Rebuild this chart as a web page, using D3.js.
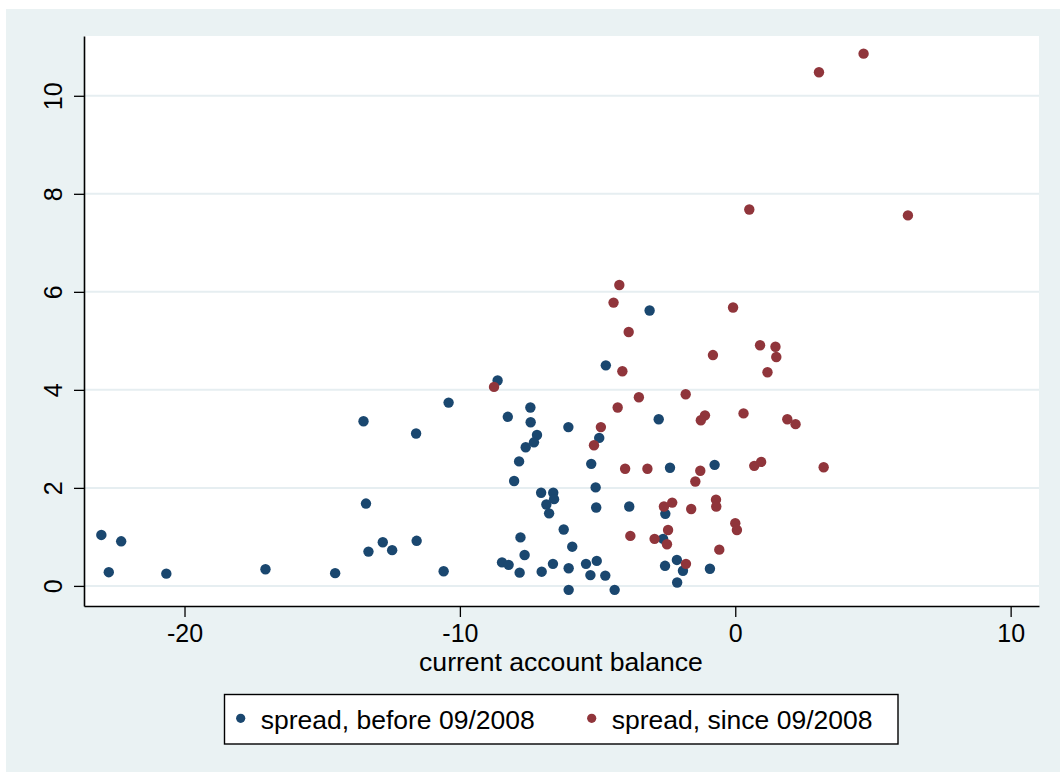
<!DOCTYPE html>
<html>
<head>
<meta charset="utf-8">
<script src="https://cdn.jsdelivr.net/npm/d3@7"></script>
<style>
  html, body { margin: 0; padding: 0; background: #ffffff; }
  svg { display: block; }
  text { font-family: "Liberation Sans", Arial, sans-serif; fill: #000; }
</style>
</head>
<body>
<script>
// ---- data ----
const beforeX = [-23.02,-22.75,-22.30,-20.66,-17.06,-14.53,-13.50,-13.41,-13.32,-12.80,-12.46,
  -11.59,-11.57,-10.59,-10.41,-8.63,-8.26,-7.44,-7.43,-7.20,-7.31,-7.61,-7.85,-8.03,-6.06,-4.94,
  -5.23,-5.07,-5.05,-4.70,-3.11,-2.78,-2.37,-0.75,-7.05,-6.61,-6.58,-6.86,-6.76,-3.85,-2.54,
  -6.23,-7.80,-5.92,-7.65,-8.47,-8.23,-7.83,-7.03,-6.62,-6.05,-5.42,-5.03,-5.26,-4.72,-6.05,
  -4.38,-2.62,-2.12,-2.55,-1.90,-2.11,-0.92];
const beforeY = [1.04,0.28,0.91,0.25,0.34,0.26,3.36,1.68,0.70,0.89,0.73,
  3.11,0.92,0.30,3.74,4.19,3.45,3.64,3.34,3.08,2.93,2.83,2.54,2.14,3.24,3.02,
  2.49,2.01,1.60,4.50,5.62,3.40,2.41,2.47,1.90,1.90,1.77,1.66,1.48,1.62,1.47,
  1.15,0.99,0.80,0.63,0.48,0.43,0.27,0.29,0.45,0.36,0.45,0.51,0.22,0.21,-0.08,
  -0.08,0.96,0.53,0.41,0.31,0.07,0.35];
const sinceX = [-4.21,-4.42,-3.87,-0.08,-4.10,-0.81,0.90,1.46,1.49,1.17,-8.76,-3.50,-1.80,-4.27,
  -1.10,-1.25,0.30,1.89,2.19,-4.88,-5.13,-4.00,-3.19,-1.27,-1.45,0.69,0.94,-2.59,-2.29,-1.60,
  -0.70,-0.69,0.00,0.06,-3.81,-2.93,-2.44,-2.48,-0.58,-1.79,4.66,3.04,0.51,6.27,3.21];
const sinceY = [6.14,5.78,5.18,5.68,4.38,4.71,4.91,4.88,4.67,4.36,4.06,3.85,3.91,3.64,
  3.48,3.38,3.52,3.40,3.30,3.24,2.87,2.39,2.39,2.35,2.13,2.45,2.53,1.62,1.70,1.57,
  1.76,1.62,1.28,1.14,1.02,0.96,1.14,0.85,0.74,0.45,10.86,10.48,7.68,7.56,2.42];
const xTicks = [-20, -10, 0, 10];
const yTicks = [0, 2, 4, 6, 8, 10];
const xTitle = "current account balance";
const seriesNames = ["spread, before 09/2008", "spread, since 09/2008"];
const seriesColors = ["#1a476f", "#90353b"];

// ---- layout ----
const W = 1060, H = 772;
const plot = { left: 84, right: 1039, top: 36, bottom: 606 };

const svg = d3.select("body").append("svg").attr("width", W).attr("height", H);

svg.append("rect").attr("x", 6).attr("y", 9).attr("width", W - 6).attr("height", H - 9)
  .attr("fill", "#eaf2f3");
svg.append("rect").attr("x", plot.left).attr("y", plot.top)
  .attr("width", plot.right - plot.left).attr("height", plot.bottom - plot.top)
  .attr("fill", "#ffffff");

const x = d3.scaleLinear().domain([-23.65, 11.03]).range([plot.left, plot.right]);
const y = d3.scaleLinear().domain([-0.41, 11.22]).range([plot.bottom, plot.top]);

// grid
svg.append("g").selectAll("line").data(yTicks).join("line")
  .attr("x1", plot.left).attr("x2", plot.right)
  .attr("y1", d => y(d)).attr("y2", d => y(d))
  .attr("stroke", "#e6eef1").attr("stroke-width", 2);

// points
function drawSeries(xs, ys, color) {
  svg.append("g").selectAll("circle").data(xs.map((v, i) => [v, ys[i]])).join("circle")
    .attr("cx", d => x(d[0])).attr("cy", d => y(d[1])).attr("r", 5.2)
    .attr("fill", color);
}
drawSeries(beforeX, beforeY, seriesColors[0]);
drawSeries(sinceX, sinceY, seriesColors[1]);

// axes
const fmt = d => String(d);
const xAxis = svg.append("g").attr("transform", `translate(0,${plot.bottom})`)
  .call(d3.axisBottom(x).tickValues(xTicks).tickFormat(fmt).tickSize(11).tickSizeOuter(0).tickPadding(7));
xAxis.selectAll("text").style("font-size", "25px").style("font-family", "Liberation Sans, Arial, sans-serif");

const yAxis = svg.append("g").attr("transform", `translate(${plot.left},0)`)
  .call(d3.axisLeft(y).tickValues(yTicks).tickFormat(fmt).tickSize(10).tickSizeOuter(0));
yAxis.selectAll("text")
  .attr("x", null).attr("dy", null)
  .attr("transform", "translate(-22,0) rotate(-90)")
  .attr("text-anchor", "middle")
  .style("font-size", "25px").style("font-family", "Liberation Sans, Arial, sans-serif");

[xAxis, yAxis].forEach(a => {
  a.select(".domain").attr("stroke", "#000").attr("stroke-width", 1.6);
  a.selectAll(".tick line").attr("stroke", "#000").attr("stroke-width", 1.3);
});

// axis title
svg.append("text").attr("x", 561).attr("y", 671).attr("text-anchor", "middle")
  .style("font-size", "26.6px").text(xTitle);

// legend
const lg = svg.append("g");
lg.append("rect").attr("x", 224.5).attr("y", 694.5).attr("width", 673.5).attr("height", 49.5)
  .attr("fill", "#fff").attr("stroke", "#000").attr("stroke-width", 1.4);
const legX = [240.7, 591.7];
seriesNames.forEach((name, i) => {
  lg.append("circle").attr("cx", legX[i]).attr("cy", 718.3).attr("r", 4.6).attr("fill", seriesColors[i]);
  lg.append("text").attr("x", legX[i] + 20).attr("y", 728.5).style("font-size", "26.5px").text(name);
});
</script>
</body>
</html>
